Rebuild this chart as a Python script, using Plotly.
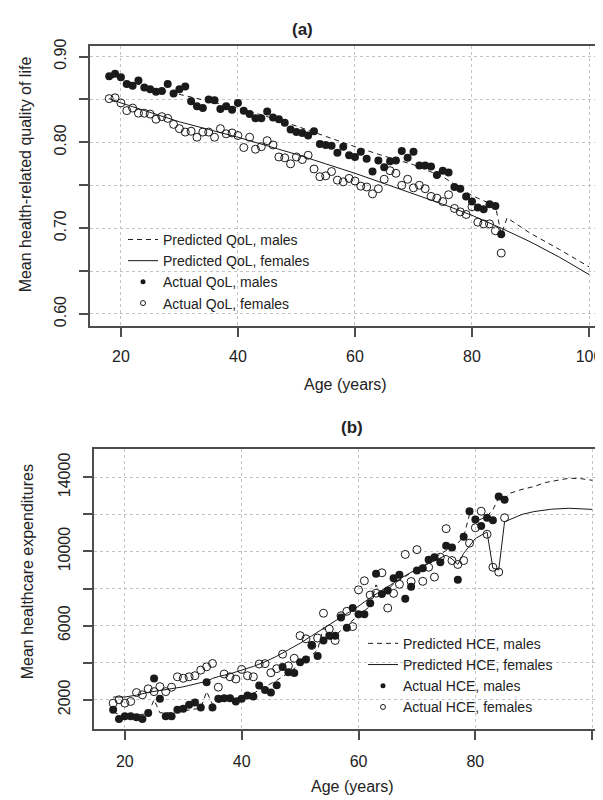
import plotly.graph_objects as go

# the page adds an 8px body margin, so the figure is 8px smaller than the window
W, H = 595, 792
FONT = "Liberation Sans, Arial, sans-serif"
INK = "#1a1a1a"
FRAME = "#4d4d4d"

# ── observed data: one value per single year of age 18–85 ───────────────────
ages = list(range(18, 86))

qol_males = [
    0.877, 0.880, 0.876, 0.868, 0.866, 0.872, 0.864, 0.862, 0.859, 0.860,
    0.868, 0.857, 0.862, 0.865, 0.848, 0.842, 0.840, 0.850, 0.849, 0.839,
    0.842, 0.838, 0.846, 0.837, 0.833, 0.828, 0.828, 0.836, 0.829, 0.827,
    0.823, 0.815, 0.812, 0.811, 0.808, 0.813, 0.798, 0.797, 0.796, 0.788,
    0.795, 0.785, 0.783, 0.789, 0.781, 0.766, 0.779, 0.771, 0.778, 0.779,
    0.790, 0.782, 0.789, 0.773, 0.773, 0.772, 0.762, 0.767, 0.765, 0.748,
    0.746, 0.737, 0.731, 0.724, 0.722, 0.728, 0.726, 0.693,
]
qol_females = [
    0.851, 0.852, 0.846, 0.837, 0.840, 0.834, 0.834, 0.833, 0.827, 0.830,
    0.828, 0.821, 0.816, 0.812, 0.813, 0.806, 0.812, 0.812, 0.806, 0.816,
    0.810, 0.811, 0.808, 0.794, 0.806, 0.792, 0.795, 0.802, 0.797, 0.783,
    0.782, 0.775, 0.783, 0.780, 0.785, 0.769, 0.760, 0.761, 0.766, 0.756,
    0.754, 0.758, 0.755, 0.749, 0.748, 0.740, 0.746, 0.757, 0.767, 0.764,
    0.750, 0.757, 0.747, 0.750, 0.746, 0.737, 0.735, 0.731, 0.739, 0.723,
    0.719, 0.716, 0.725, 0.707, 0.705, 0.705, 0.697, 0.671,
]
hce_males = [
    1470, 970, 1110, 1110, 1060, 970, 1290, 3150, 2050, 1110,
    1110, 1470, 1520, 1730, 1860, 1590, 2940, 1590, 2050, 2090,
    2090, 1910, 2050, 2230, 2180, 2770, 2530, 2400, 2780, 3770,
    3480, 3440, 4020, 4180, 4960, 4360, 5200, 5460, 5460, 6440,
    5880, 6950, 6620, 6620, 7210, 8800, 7700, 7900, 8550, 8750,
    7450, 8100, 8980, 9100, 9550, 9690, 9420, 10310, 10220, 8480,
    10800, 12170, 11730, 11370, 11820, 11690, 12970, 12790,
]
hce_females = [
    1820, 2000, 1820, 1910, 2390, 2270, 2590, 2440, 2710, 2440,
    2680, 3240, 3160, 3240, 3300, 3600, 3780, 3960, 2680, 3390,
    3240, 3120, 3640, 3300, 3240, 3930, 3950, 3460, 3680, 4460,
    3830, 4240, 5460, 5290, 4930, 5330, 6670, 5820, 5200, 6530,
    6770, 5950, 7930, 8420, 7650, 7750, 8850, 6950, 7740, 8230,
    9840, 8380, 10100, 8390, 9150, 8620, 9690, 11230, 9510, 9300,
    9510, 10450, 11280, 12170, 10930, 9150, 8890, 11820,
]

# ── model predictions ───────────────────────────────────────────────────────
pred_qol_m_age = [18, 20, 25, 30, 35, 40, 45, 50, 55, 60, 65, 70, 75, 80,
                  84, 85, 86, 90, 95, 100]
pred_qol_m = [0.877, 0.873, 0.864, 0.856, 0.848, 0.840, 0.830, 0.819, 0.807,
              0.795, 0.784, 0.774, 0.760, 0.738, 0.726, 0.693, 0.712, 0.694,
              0.675, 0.655]
pred_qol_f_age = [18, 20, 25, 30, 35, 40, 45, 50, 55, 60, 65, 70, 75, 80,
                  85, 90, 95, 100]
pred_qol_f = [0.851, 0.846, 0.835, 0.824, 0.815, 0.806, 0.796, 0.786, 0.775,
              0.764, 0.752, 0.740, 0.728, 0.715, 0.700, 0.684, 0.666, 0.646]

pred_hce_m_age = [18, 19, 21, 23, 24, 25, 26, 28, 30, 32, 33, 34, 35, 37, 40,
                  42, 44, 46, 48, 50, 52, 53, 54, 55, 57, 59, 60, 62, 63, 64,
                  66, 68, 70, 72, 74, 76, 77, 78, 79, 80, 82, 83, 84, 85, 86,
                  88, 90, 92, 94, 96, 98, 100]
pred_hce_m = [1350, 1200, 1150, 1200, 1250, 2000, 1300, 1300, 1400, 1480,
              1550, 2450, 1750, 1950, 2150, 2350, 2700, 3050, 3450, 3900,
              4400, 4700, 5900, 5200, 5750, 6300, 6550, 7050, 8200, 7600,
              8250, 8650, 9050, 9450, 9850, 10250, 10450, 10800, 12000, 11600,
              11900, 12250, 12900, 12850, 13150, 13350, 13500, 13720, 13850,
              13950, 13930, 13840]
pred_hce_f_age = [18, 20, 22, 24, 26, 28, 30, 32, 34, 35, 36, 38, 40, 42, 44,
                  46, 48, 50, 52, 54, 56, 58, 60, 62, 64, 66, 68, 70, 72, 74,
                  75, 76, 77, 78, 80, 82, 83, 84, 85, 88, 90, 93, 96, 100]
pred_hce_f = [2150, 2150, 2250, 2400, 2500, 2600, 2700, 2850, 3000, 3150,
              3250, 3400, 3600, 3800, 4050, 4350, 4700, 5050, 5450, 5850,
              6250, 6650, 7050, 7500, 7900, 8300, 8700, 9050, 9350, 9650,
              9800, 9600, 9300, 9900, 10700, 11050, 9100, 9000, 11600, 12000,
              12150, 12280, 12330, 12270]

x_ticks = [20, 40, 60, 80, 100]
qol_ticks = [0.60, 0.65, 0.70, 0.75, 0.80, 0.85, 0.90]
qol_labels = ["0.60", "", "0.70", "", "0.80", "", "0.90"]
hce_ticks = [2000, 4000, 6000, 8000, 10000, 12000, 14000]
hce_labels = ["2000", "", "6000", "", "10000", "", "14000"]


def px_x(p):
    return p / W


def px_y(p):
    return 1 - p / H


fig = go.Figure()

line_style = dict(color=INK, width=1)
filled = dict(symbol="circle", color=INK)
hollow = dict(symbol="circle-open", color=INK, line=dict(width=1, color=INK))


def add_panel(xa, ya, leg, pm_age, pm, pf_age, pf, ym, yf, what):
    fig.add_trace(go.Scatter(
        x=pm_age, y=pm, mode="lines", name=f"Predicted {what}, males",
        line=dict(dash="5px,4px", **line_style),
        xaxis=xa, yaxis=ya, legend=leg))
    fig.add_trace(go.Scatter(
        x=pf_age, y=pf, mode="lines", name=f"Predicted {what}, females",
        line=line_style, xaxis=xa, yaxis=ya, legend=leg))
    fig.add_trace(go.Scatter(
        x=ages, y=ym, mode="markers", marker=dict(size=8, **filled),
        showlegend=False, xaxis=xa, yaxis=ya))
    fig.add_trace(go.Scatter(
        x=ages, y=yf, mode="markers", marker=dict(size=8, **hollow),
        showlegend=False, xaxis=xa, yaxis=ya))
    # legend keys with the small point symbols of the original
    fig.add_trace(go.Scatter(
        x=[None], y=[None], mode="markers", name=f"Actual {what}, males",
        marker=dict(size=5, **filled), xaxis=xa, yaxis=ya, legend=leg))
    fig.add_trace(go.Scatter(
        x=[None], y=[None], mode="markers", name=f"Actual {what}, females",
        marker=dict(size=5, **hollow), xaxis=xa, yaxis=ya, legend=leg))


add_panel("x", "y", "legend", pred_qol_m_age, pred_qol_m, pred_qol_f_age,
          pred_qol_f, qol_males, qol_females, "QoL")
add_panel("x2", "y2", "legend2", pred_hce_m_age, pred_hce_m, pred_hce_f_age,
          pred_hce_f, hce_males, hce_females, "HCE")

axis_common = dict(
    showline=True, linecolor=FRAME, linewidth=2,
    ticks="outside", ticklen=9, tickwidth=1.5, tickcolor=FRAME,
    showgrid=True, gridcolor="#c4c4c4", griddash="dot", gridwidth=1,
    zeroline=False, tickfont=dict(size=16, color="#222", family=FONT),
)

legend_common = dict(
    xanchor="left", yanchor="top", bgcolor="rgba(0,0,0,0)",
    font=dict(size=14, color="#222", family=FONT), tracegroupgap=0,
)

fig.update_layout(
    width=W, height=H,
    margin=dict(l=0, r=0, t=0, b=0),
    paper_bgcolor="white", plot_bgcolor="white",
    font=dict(family=FONT, color="#222"),
    xaxis=dict(domain=[px_x(82), 1], range=[14.72, 102.39], anchor="y",
               mirror=True, tickvals=x_ticks, ticklabelstandoff=6,
               **axis_common),
    yaxis=dict(domain=[px_y(314), px_y(31)], range=[0.5862, 0.9127],
               anchor="x", tickvals=qol_ticks, ticktext=qol_labels,
               tickangle=-90, ticklabelstandoff=7, **axis_common),
    xaxis2=dict(domain=[px_x(86), 1], range=[14.72, 101.85], anchor="y2",
                mirror=True, tickvals=x_ticks, ticklabelstandoff=8,
                **axis_common),
    yaxis2=dict(domain=[px_y(721), px_y(438)], range=[440, 15550],
                anchor="x2", tickvals=hce_ticks, ticktext=hce_labels,
                tickangle=-90, ticklabelstandoff=7, **axis_common),
    legend=dict(x=px_x(115), y=px_y(211), **legend_common),
    legend2=dict(x=px_x(355), y=px_y(619), **legend_common),
)

text_ann = [
    dict(text="<b>(a)</b>", x=px_x(294), y=px_y(15), size=17, angle=0),
    dict(text="<b>(b)</b>", x=px_x(344), y=px_y(417), size=17, angle=0),
    dict(text="Age (years)", x=px_x(337), y=px_y(373), size=16, angle=0),
    dict(text="Age (years)", x=px_x(344), y=px_y(779), size=16, angle=0),
    dict(text="Mean health-related quality of life", x=px_x(17),
         y=px_y(161), size=16, angle=-90),
    dict(text="Mean healthcare expenditures", x=px_x(19), y=px_y(563),
         size=16, angle=-90),
]
for a in text_ann:
    fig.add_annotation(text=a["text"], x=a["x"], y=a["y"], xref="paper",
                       yref="paper", showarrow=False, textangle=a["angle"],
                       xanchor="center", yanchor="middle",
                       font=dict(size=a["size"], color="#222", family=FONT))

fig.write_html("out.html")
